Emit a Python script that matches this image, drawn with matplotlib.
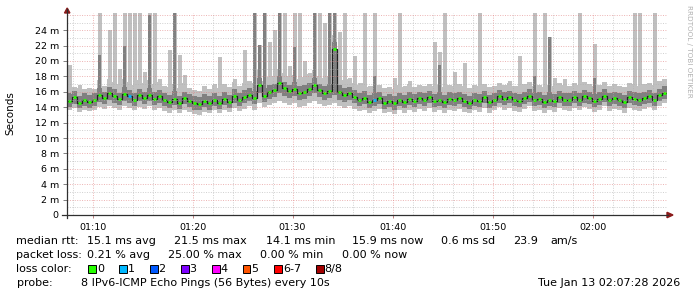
import numpy as np
import matplotlib
matplotlib.use("Agg")
import matplotlib.pyplot as plt
from matplotlib.lines import Line2D
from matplotlib.patches import Polygon, Rectangle

# ---------------- data (ms), one value per 30 s step from 01:07:28 ----------------
start_minute = 67 + 28 / 60.0   # 01:07:28 in minutes after midnight
step_minutes = 0.5

median = [
    14.8, 15.3, 14.6, 15.0, 14.7, 14.9, 15.6, 15.2, 15.8, 15.4,
    15.1, 15.7, 15.4, 15.0, 15.6, 15.2, 15.6, 15.1, 15.4, 15.0,
    14.7, 15.1, 14.6, 15.2, 14.8, 14.5, 14.4, 14.8, 14.5, 15.0,
    14.6, 15.1, 14.7, 15.4, 14.9, 15.3, 15.6, 15.2, 16.9, 15.5,
    16.0, 16.2, 17.1, 16.5, 16.1, 16.3, 15.8, 16.0, 16.4, 16.9,
    16.2, 15.9, 16.1, 21.5, 16.0, 15.6, 15.8, 15.3, 15.0, 15.2,
    14.7, 14.9, 15.2, 14.6, 14.8, 14.5, 15.0, 14.7, 15.1, 14.8,
    15.2, 14.9, 15.3, 14.8, 15.0, 14.7, 15.1, 14.9, 15.2, 14.8,
    14.6, 15.0, 14.8, 15.3, 14.7, 15.0, 15.4, 15.1, 15.3, 14.9,
    14.8, 15.2, 15.5, 14.9, 15.1, 14.7, 15.0, 14.8, 15.3, 15.0,
    14.9, 15.3, 15.0, 15.4, 15.2, 14.8, 15.1, 15.5, 14.9, 15.2,
    15.0, 14.7, 15.3, 15.1, 14.9, 15.2, 15.4, 15.0, 15.6, 15.9,
]

ping_max = [
    19.5, 16.6, 16.9, 16.3, 16.5, 16.4, 27.0, 16.8, 24.0, 27.0,
    19.0, 27.0, 27.0, 27.0, 27.0, 18.6, 27.0, 27.0, 17.6, 16.8,
    21.4, 27.0, 20.8, 18.2, 16.5, 16.2, 16.1, 16.8, 16.4, 17.0,
    20.5, 17.0, 16.6, 17.6, 16.8, 21.4, 17.4, 27.0, 22.1, 27.0,
    22.5, 24.0, 27.0, 27.0, 19.4, 27.0, 27.0, 20.0, 18.4, 27.0,
    27.0, 25.0, 27.0, 27.0, 23.8, 27.0, 17.8, 20.7, 17.2, 27.0,
    16.8, 27.0, 16.9, 16.5, 16.6, 17.8, 27.0, 16.7, 17.4, 16.6,
    16.9, 16.7, 17.0, 22.5, 21.2, 27.0, 16.9, 18.6, 17.0, 19.8,
    16.5, 16.9, 27.0, 17.0, 16.6, 16.8, 17.1, 16.9, 17.4, 16.8,
    20.7, 17.0, 17.3, 27.0, 16.9, 27.0, 23.1, 17.8, 17.2, 17.6,
    16.8, 17.1, 27.0, 17.3, 17.0, 22.2, 16.9, 17.3, 16.7, 17.0,
    16.8, 16.6, 17.1, 27.0, 27.0, 17.0, 17.2, 27.0, 17.4, 17.6,
]

dark_hi = [
    15.8, 16.1, 15.5, 15.9, 15.6, 15.8, 20.8, 16.0, 16.6, 16.3,
    15.9, 22.0, 16.2, 15.9, 16.4, 16.0, 26.0, 16.0, 16.2, 15.8,
    15.6, 27.0, 15.5, 16.0, 15.7, 15.4, 15.3, 15.7, 15.4, 15.9,
    15.5, 16.0, 15.6, 16.3, 15.8, 16.2, 16.5, 27.0, 22.1, 27.0,
    16.9, 17.0, 27.0, 17.3, 16.9, 21.8, 16.7, 16.9, 17.2, 27.0,
    17.0, 16.8, 27.0, 27.0, 16.9, 16.5, 16.6, 16.2, 15.9, 16.1,
    15.6, 18.0, 16.0, 15.5, 15.7, 15.4, 15.9, 15.6, 16.0, 15.7,
    16.0, 15.8, 16.1, 15.7, 19.5, 15.6, 16.0, 15.8, 16.0, 15.7,
    15.5, 15.9, 15.7, 16.1, 15.6, 15.9, 16.2, 16.0, 16.1, 15.8,
    15.7, 16.0, 16.3, 18.0, 16.0, 15.6, 23.1, 15.7, 16.1, 15.9,
    15.8, 16.1, 15.9, 16.2, 16.0, 17.8, 16.0, 16.3, 15.8, 16.0,
    15.9, 15.6, 16.1, 16.0, 15.8, 16.0, 16.2, 15.9, 16.4, 16.7,
]

dark_lo = [
    14.0, 14.4, 13.9, 14.2, 13.9, 14.1, 14.7, 14.4, 14.9, 14.6,
    14.3, 14.8, 14.6, 14.2, 14.8, 14.4, 14.8, 14.3, 14.6, 14.2,
    13.9, 14.3, 13.8, 14.4, 14.0, 13.7, 13.6, 14.0, 13.7, 14.2,
    13.8, 14.3, 13.9, 14.6, 14.1, 14.5, 14.8, 14.4, 15.8, 14.7,
    15.1, 15.3, 15.8, 15.5, 15.2, 15.4, 14.9, 15.1, 15.5, 15.8,
    15.3, 15.0, 15.2, 15.6, 15.0, 14.7, 14.9, 14.5, 14.2, 14.4,
    13.9, 14.1, 14.4, 13.8, 14.0, 13.7, 14.2, 13.9, 14.3, 14.0,
    14.4, 14.1, 14.5, 14.0, 14.2, 13.9, 14.3, 14.1, 14.4, 14.0,
    13.8, 14.2, 14.0, 14.5, 13.9, 14.2, 14.6, 14.3, 14.5, 14.1,
    14.0, 14.4, 14.7, 14.1, 14.3, 13.9, 14.2, 14.0, 14.5, 14.2,
    14.1, 14.5, 14.2, 14.6, 14.4, 14.0, 14.3, 14.7, 14.1, 14.4,
    14.2, 13.9, 14.5, 14.3, 14.1, 14.4, 14.6, 14.2, 14.8, 15.1,
]

ping_min = [
    13.6, 13.9, 13.4, 13.7, 13.5, 13.6, 14.0, 13.8, 14.2, 13.9,
    13.7, 14.1, 13.9, 13.6, 14.0, 13.8, 14.1, 13.6, 13.9, 13.5,
    13.3, 13.6, 13.2, 13.7, 13.4, 13.1, 13.0, 13.4, 13.2, 13.6,
    13.3, 13.7, 13.4, 13.9, 13.5, 13.8, 14.1, 13.7, 14.5, 14.0,
    14.3, 14.5, 14.8, 14.6, 14.3, 14.5, 14.0, 14.2, 14.6, 14.8,
    14.4, 14.1, 14.3, 14.6, 14.2, 13.9, 14.1, 13.8, 13.5, 13.7,
    13.3, 13.5, 13.8, 13.2, 13.4, 13.1, 13.6, 13.3, 13.7, 13.4,
    13.8, 13.5, 13.9, 13.4, 13.6, 13.3, 13.7, 13.5, 13.8, 13.4,
    13.2, 13.6, 13.4, 13.9, 13.3, 13.6, 14.0, 13.7, 13.9, 13.5,
    13.4, 13.8, 14.1, 13.5, 13.7, 13.3, 13.6, 13.4, 13.9, 13.6,
    13.5, 13.9, 13.6, 14.0, 13.8, 13.4, 13.7, 14.1, 13.5, 13.8,
    13.6, 13.3, 13.9, 13.7, 13.5, 13.8, 14.0, 13.6, 14.2, 14.5,
]

# samples with lost pings (step index -> loss class)
loss_steps = [12, 61]
loss_class_at_steps = [1, 1]

loss_labels = ["0", "1", "2", "3", "4", "5", "6-7", "8/8"]
loss_colors = ["#26ff00", "#00b8ff", "#0059ff", "#7e00ff", "#ff00ff", "#ff5500", "#ff0000", "#a10000"]

y_tick_values = [0, 2, 4, 6, 8, 10, 12, 14, 16, 18, 20, 22, 24]
y_tick_labels = ["0", "2 m", "4 m", "6 m", "8 m", "10 m", "12 m", "14 m", "16 m",
                 "18 m", "20 m", "22 m", "24 m"]
x_tick_minutes = [70, 80, 90, 100, 110, 120]
x_tick_labels = ["01:10", "01:20", "01:30", "01:40", "01:50", "02:00"]

legend_rtt = [("median rtt:", 16.5), ("15.1 ms avg", 87.3), ("21.5 ms max", 174),
              ("14.1 ms min", 265.7), ("15.9 ms now", 352.3), ("0.6 ms sd", 441),
              ("23.9", 513.3), ("am/s", 550)]
legend_loss = [("packet loss:", 16.5), ("0.21 % avg", 87.3), ("25.00 % max", 168.3),
               ("0.00 % min", 260), ("0.00 % now", 341.7)]
probe_text = "8 IPv6-ICMP Echo Pings (56 Bytes) every 10s"
date_text = "Tue Jan 13 02:07:28 2026"

# ---------------- figure ----------------
W, H = 697, 297
fig = plt.figure(figsize=(W / 100, H / 100), dpi=100)
fig.patch.set_facecolor("white")


def fx(px):
    return px / W


def fy(py):
    return 1 - py / H


AX_L, AX_R, AX_T, AX_B = 67.2, 667.2, 13.0, 215.0
ax = fig.add_axes([fx(AX_L), fy(AX_B), (AX_R - AX_L) / W, (AX_B - AX_T) / H])
y_top = (AX_B - AX_T) / 7.7
ax.set_ylim(0, y_top)
ax.set_xlim(start_minute, start_minute + 60)
for s in ax.spines.values():
    s.set_visible(False)

n = len(median)
edges = start_minute + step_minutes * np.arange(n + 1)
centers = edges[:-1] + step_minutes / 2
med = np.asarray(median)
pmax = np.minimum(np.asarray(ping_max), y_top + 1)
dhi = np.minimum(np.asarray(dark_hi), y_top + 1)


def sv(a):
    a = np.asarray(a, dtype=float)
    return np.append(a, a[-1])


LIGHT, DARK = "#c0c0c0", "#808080"
# continuous smoke body (full step width), tall excursions as narrow bars
ax.fill_between(edges, sv(ping_min), sv(np.minimum(pmax, med + 1.9)), step="post",
                color=LIGHT, lw=0, zorder=2)
ax.bar(centers, pmax - np.asarray(ping_min), bottom=ping_min, width=step_minutes * 0.8,
       color=LIGHT, lw=0, zorder=2)
ax.fill_between(edges, sv(dark_lo), sv(np.minimum(dhi, med + 0.95)), step="post",
                color=DARK, lw=0, zorder=3)
ax.bar(centers, dhi - np.asarray(dark_lo), bottom=dark_lo, width=step_minutes * 0.55,
       color=DARK, lw=0, zorder=3)
ax.step(edges, sv(median), where="post", color="#202020", lw=0.9, zorder=4)

loss_arr = np.zeros(n, dtype=int)
for k, c in zip(loss_steps, loss_class_at_steps):
    loss_arr[k] = c
seg_cols = [loss_colors[c] for c in loss_arr]
ax.hlines(median, edges[:-1] + step_minutes * 0.1, edges[1:] - step_minutes * 0.15,
          colors=seg_cols, lw=2.0, zorder=5)

# grid (drawn on top, like rrdtool)
dot = (0, (1, 1.5))
for m in range(68, 128, 2):
    if m % 10 == 0:
        ax.axvline(m, color="#e08080", alpha=0.6, lw=0.7, ls=dot, zorder=6)
    else:
        ax.axvline(m, color="#b0b0b0", alpha=0.6, lw=0.7, ls=dot, zorder=6)
for v in range(1, 27):
    if v % 2 == 0:
        ax.axhline(v, color="#e08080", alpha=0.6, lw=0.7, ls=dot, zorder=6)
    else:
        ax.axhline(v, color="#b0b0b0", alpha=0.6, lw=0.7, ls=dot, zorder=6)

ax.set_yticks(y_tick_values)
ax.set_yticklabels(y_tick_labels)
ax.set_xticks(x_tick_minutes)
ax.set_xticklabels(x_tick_labels)
ax.tick_params(axis="y", length=3, width=0.7, color="#808080", pad=3, labelsize=6.8)
ax.tick_params(axis="x", length=2, width=0.7, color="#c08080", pad=4, labelsize=6.8)

# axis lines and arrows
fig.add_artist(Line2D([fx(AX_L), fx(AX_L)], [fy(AX_B + 3), fy(9)], color="#303030", lw=0.9))
fig.add_artist(Line2D([fx(62), fx(668)], [fy(AX_B), fy(AX_B)], color="#303030", lw=0.9))
fig.add_artist(Polygon([(fx(64.5), fy(13)), (fx(69.9), fy(13)), (fx(67.2), fy(8))],
                       closed=True, color="#8b1a1a", transform=fig.transFigure))
fig.add_artist(Polygon([(fx(667), fy(212.3)), (fx(667), fy(217.7)), (fx(673), fy(215))],
                       closed=True, color="#8b1a1a", transform=fig.transFigure))

# labels
fig.text(fx(10), fy(113), "Seconds", rotation=90, ha="center", va="center", fontsize=7.5)
fig.text(fx(688.5), fy(5), "RRDTOOL / TOBI OETIKER", rotation=270, ha="center", va="top",
         fontsize=5.2, color="#b0b0b0")

fs = 8
for txt, x in legend_rtt:
    fig.text(fx(x), fy(241), txt, ha="left", va="center", fontsize=fs)
for txt, x in legend_loss:
    fig.text(fx(x), fy(255), txt, ha="left", va="center", fontsize=fs)
fig.text(fx(16.5), fy(269), "loss color:", ha="left", va="center", fontsize=fs)
box_x = [88.3, 119.3, 150, 181, 212.3, 242.7, 274.3, 316]
for lbl, col, bx in zip(loss_labels, loss_colors, box_x):
    fig.add_artist(Rectangle((fx(bx), fy(273)), 7.7 / W, 8 / H, transform=fig.transFigure,
                             facecolor=col, edgecolor="black", lw=0.7))
    fig.text(fx(bx + 8.6), fy(269), lbl, ha="left", va="center", fontsize=fs)
fig.text(fx(16.5), fy(283), "probe:", ha="left", va="center", fontsize=fs)
fig.text(fx(80.7), fy(283), probe_text, ha="left", va="center", fontsize=fs)
fig.text(fx(680.7), fy(283), date_text, ha="right", va="center", fontsize=fs)

fig.savefig("out.png", dpi=100, facecolor="white")
